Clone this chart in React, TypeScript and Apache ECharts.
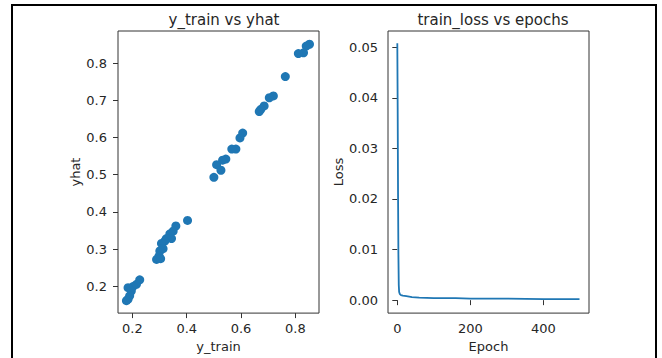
import React, { useEffect, useRef } from "react";
import * as echarts from "echarts";

const yTrain = [0.852, 0.840, 0.830, 0.811, 0.763, 0.719, 0.704, 0.685, 0.673, 0.667, 0.606, 0.596, 0.581, 0.566, 0.544, 0.532, 0.510, 0.526, 0.500, 0.403, 0.360, 0.350, 0.338, 0.344, 0.325, 0.319, 0.307, 0.313, 0.301, 0.298, 0.289, 0.304, 0.227, 0.215, 0.202, 0.184, 0.196, 0.190, 0.184, 0.178];
const yHat = [0.851, 0.846, 0.828, 0.826, 0.764, 0.712, 0.707, 0.685, 0.676, 0.670, 0.612, 0.599, 0.569, 0.569, 0.542, 0.539, 0.527, 0.512, 0.493, 0.377, 0.362, 0.348, 0.341, 0.328, 0.328, 0.321, 0.315, 0.301, 0.295, 0.281, 0.272, 0.274, 0.217, 0.205, 0.199, 0.196, 0.187, 0.174, 0.165, 0.161];

const epochs = [0, 1, 2, 3, 4, 5, 7, 10, 15, 25, 40, 60, 100, 160, 200, 300, 400, 499];
const losses = [0.0508, 0.038, 0.021, 0.009, 0.003, 0.0016, 0.0012, 0.001, 0.0009, 0.0008, 0.0006, 0.0005, 0.0004, 0.0004, 0.0003, 0.0003, 0.0002, 0.0002];

const xTicks = [0.2, 0.4, 0.6, 0.8];
const yTicks = [0.2, 0.3, 0.4, 0.5, 0.6, 0.7, 0.8];
const epochTicks = [0, 200, 400];
const lossTicks = [0, 0.01, 0.02, 0.03, 0.04, 0.05];

const FONT = "DejaVu Sans";
const TXT = "#262626";
const BLUE = "#1f77b4";

export default function App() {
  const ref = useRef<HTMLDivElement>(null);
  useEffect(() => {
    if (!ref.current) return;
    const chart = echarts.init(ref.current, null, { renderer: "svg" });
    const axisCommon = {
      axisLine: { show: false },
      splitLine: { show: false },
      axisTick: { show: true, length: 5, lineStyle: { color: "#333", width: 1 } },
    };
    const labelCommon = { color: TXT, fontFamily: FONT, fontSize: 13 };
    const nameStyle = { color: TXT, fontFamily: FONT, fontSize: 13 };
    chart.setOption({
      animation: false,
      backgroundColor: "#ffffff",
      title: [
        { text: "y_train vs yhat", left: 219, top: 7, textAlign: "center", textStyle: { color: TXT, fontFamily: FONT, fontSize: 15, fontWeight: "normal" } },
        { text: "train_loss vs epochs", left: 488, top: 7, textAlign: "center", textStyle: { color: TXT, fontFamily: FONT, fontSize: 15, fontWeight: "normal" } },
      ],
      grid: [
        { left: 118, top: 31, width: 201, height: 283, show: true, borderColor: "#333", borderWidth: 1, backgroundColor: "transparent" },
        { left: 388, top: 31, width: 201, height: 283, show: true, borderColor: "#333", borderWidth: 1, backgroundColor: "transparent" },
      ],
      xAxis: [
        {
          ...axisCommon, gridIndex: 0, type: "value", min: 0.147, max: 0.887,
          name: "y_train", nameLocation: "middle", nameGap: 25, nameTextStyle: nameStyle,
          axisTick: { ...axisCommon.axisTick, customValues: xTicks },
          axisLabel: { ...labelCommon, margin: 9, customValues: xTicks, formatter: (v: number) => v.toFixed(1) },
        },
        {
          ...axisCommon, gridIndex: 1, type: "value", min: -25.5, max: 525,
          name: "Epoch", nameLocation: "middle", nameGap: 25, nameTextStyle: nameStyle,
          axisTick: { ...axisCommon.axisTick, customValues: epochTicks },
          axisLabel: { ...labelCommon, margin: 9, customValues: epochTicks, formatter: (v: number) => String(Math.round(v)) },
        },
      ],
      yAxis: [
        {
          ...axisCommon, gridIndex: 0, type: "value", min: 0.1276, max: 0.8866,
          name: "yhat", nameLocation: "middle", nameGap: 36, nameTextStyle: nameStyle,
          axisTick: { ...axisCommon.axisTick, customValues: yTicks },
          axisLabel: { ...labelCommon, margin: 11, customValues: yTicks, formatter: (v: number) => v.toFixed(1) },
        },
        {
          ...axisCommon, gridIndex: 1, type: "value", min: -0.00256, max: 0.0532,
          name: "Loss", nameLocation: "middle", nameGap: 42, nameTextStyle: nameStyle,
          axisTick: { ...axisCommon.axisTick, customValues: lossTicks },
          axisLabel: { ...labelCommon, margin: 10, customValues: lossTicks, formatter: (v: number) => v.toFixed(2) },
        },
      ],
      series: [
        {
          type: "scatter", xAxisIndex: 0, yAxisIndex: 0, symbolSize: 9,
          itemStyle: { color: BLUE, opacity: 1 },
          data: yTrain.map((x, i) => [x, yHat[i]]),
        },
        {
          type: "line", xAxisIndex: 1, yAxisIndex: 1, showSymbol: false, symbol: "none",
          lineStyle: { color: BLUE, width: 1.8 },
          data: epochs.map((e, i) => [e, losses[i]]),
        },
      ],
      graphic: [
        {
          type: "polyline", silent: true,
          shape: { points: [[12, 358], [12, 5], [656, 5], [656, 358]] },
          style: { stroke: "#000", lineWidth: 2, fill: null },
        },
      ],
    });
    return () => chart.dispose();
  }, []);
  return <div ref={ref} style={{ position: "fixed", left: 0, top: 0, width: 662, height: 358 }} />;
}
